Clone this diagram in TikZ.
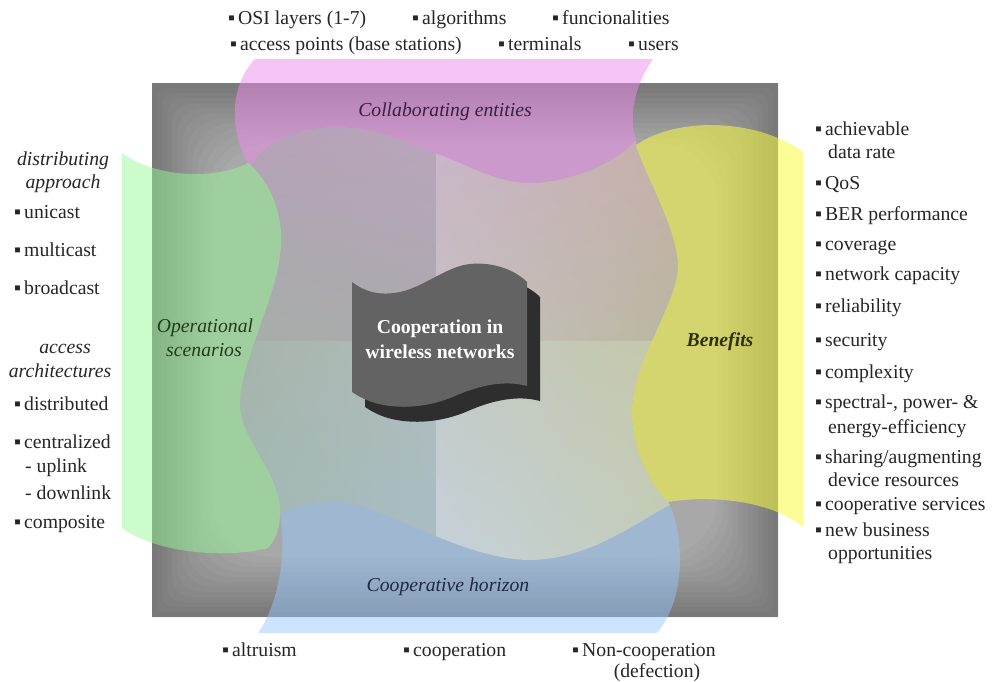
\documentclass[tikz,border=0pt]{standalone}
\usepackage{fontspec}
\setmainfont{Liberation Serif}
\usetikzlibrary{shadings}
\definecolor{sqbase}{HTML}{A8A8A8}
\definecolor{pinkB}{RGB}{238,140,238}
\definecolor{greenB}{RGB}{150,250,150}
\definecolor{yellowB}{RGB}{250,250,65}
\definecolor{blueB}{RGB}{150,200,255}
\definecolor{tlA}{HTML}{B6A0B8}\definecolor{tlB}{HTML}{BAA5BC}\definecolor{tlC}{HTML}{A6AEA8}\definecolor{tlD}{HTML}{ABA9AD}
\definecolor{trA}{HTML}{C9B3C9}\definecolor{trB}{HTML}{C9AFA9}\definecolor{trC}{HTML}{C7C2C2}\definecolor{trD}{HTML}{B9B69E}
\definecolor{blA}{HTML}{A6B4A9}\definecolor{blB}{HTML}{B1BDBC}\definecolor{blC}{HTML}{A0B9B6}\definecolor{blD}{HTML}{A8BCC4}
\definecolor{brA}{HTML}{C2C9C6}\definecolor{brB}{HTML}{C6C8A6}\definecolor{brC}{HTML}{C6D2DC}\definecolor{brD}{HTML}{C2CCB6}
\definecolor{frontc}{HTML}{636363}
\definecolor{shadowc}{HTML}{2E2E2E}
\definecolor{txtc}{HTML}{262626}
\definecolor{hpink}{HTML}{3B1F42}
\definecolor{hgreen}{HTML}{1E3D1E}
\definecolor{hyellow}{HTML}{2F2F08}
\definecolor{hblue}{HTML}{1F2940}
\newcommand\fs{\fontsize{19.7}{23}\selectfont}
\newcommand\bul{\makebox[10pt][l]{▪}}
\tikzset{
  lst/.style={anchor=base west, inner sep=0pt, text=txtc, font=\fs},
  ilbl/.style={anchor=base, inner sep=0pt, text=txtc, font=\fs\itshape},
  hd/.style={anchor=base, inner sep=0pt, font=\fs\itshape},
  mid/.style={anchor=base, inner sep=0pt, text=white, font=\fs\bfseries},
  banner/.style={fill opacity=#1},
}
\begin{document}
\begin{tikzpicture}[x=1pt,y=-1pt]
\useasboundingbox (0,0) rectangle (997,681);
\fill[white] (0,0) rectangle (997,681);
% gray square with vignette
\fill[sqbase] (152,83) rectangle (778,617);
\foreach \d in {5,10,...,60}
  \fill[black,fill opacity=0.025,even odd rule] (152,83) rectangle (778,617)
     [rounded corners=\d pt] (152+\d,83+\d) rectangle (778-\d,617-\d);
% inner pastel region
\begin{scope}
\clip (250,167) .. controls (265,140) and (300,126) .. (340,127)
   .. controls (380,128) and (405,143) .. (435,153)
   .. controls (465,163) and (495,183) .. (530,183)
   .. controls (565,183) and (615,165) .. (636,140)
   -- (636,145) .. controls (645,175) and (678,230) .. (678,267)
   .. controls (678,300) and (635,360) .. (632,407)
   .. controls (630,445) and (650,485) .. (668,502)
   -- (670,505) .. controls (640,520) and (590,560) .. (530,560)
   .. controls (460,560) and (380,502) .. (337,502)
   .. controls (315,502) and (295,505) .. (280,515)
   -- (280,512) .. controls (280,470) and (238,440) .. (240,400)
   .. controls (242,360) and (275,300) .. (280,255)
   .. controls (285,225) and (275,185) .. (248,163) -- cycle;
\shade[upper left=tlA, upper right=tlB, lower left=tlC, lower right=tlD] (230,115) rectangle (436,341);
\shade[upper left=trA, upper right=trB, lower left=trC, lower right=trD] (436,115) rectangle (690,341);
\shade[upper left=blA, upper right=blB, lower left=blC, lower right=blD] (230,341) rectangle (436,570);
\shade[upper left=brA, upper right=brB, lower left=brC, lower right=brD] (436,341) rectangle (690,570);
\end{scope}
% banners
\fill[pinkB, banner=0.5] (255,59) -- (653,59) .. controls (635,85) and (628,115) .. (636,140)
   .. controls (615,165) and (565,183) .. (530,183)
   .. controls (495,183) and (465,163) .. (435,153)
   .. controls (405,143) and (380,128) .. (340,127)
   .. controls (300,126) and (265,140) .. (250,167)
   .. controls (228,130) and (230,85) .. (255,59) -- cycle;
\fill[greenB, banner=0.48] (122,153) -- (122,528)
   .. controls (160,555) and (230,558) .. (268,548)
   .. controls (275,540) and (280,530) .. (280,512)
   .. controls (280,470) and (238,440) .. (240,400)
   .. controls (242,360) and (275,300) .. (280,255)
   .. controls (285,225) and (275,185) .. (248,163)
   .. controls (210,182) and (150,175) .. (122,153) -- cycle;
\fill[yellowB, banner=0.55] (803,152) -- (803,527)
   .. controls (770,500) and (710,495) .. (668,502)
   .. controls (650,485) and (630,445) .. (632,407)
   .. controls (635,360) and (678,300) .. (678,267)
   .. controls (678,230) and (645,175) .. (636,145)
   .. controls (680,115) and (760,120) .. (803,152) -- cycle;
\fill[blueB, banner=0.48] (258,633) -- (657,633)
   .. controls (685,600) and (685,540) .. (670,505)
   .. controls (640,520) and (590,560) .. (530,560)
   .. controls (460,560) and (380,502) .. (337,502)
   .. controls (315,502) and (295,505) .. (280,515)
   .. controls (288,560) and (275,610) .. (258,633) -- cycle;
% centre flag
\fill[shadowc, shift={(13,15)}] (352,282) .. controls (365,292) and (380,296) .. (400,292)
   .. controls (420,288) and (440,272) .. (460,266)
   .. controls (480,260) and (510,265) .. (527,282) -- (527,386)
   .. controls (505,380) and (480,385) .. (455,396)
   .. controls (430,407) and (400,410) .. (375,403)
   .. controls (365,400) and (358,396) .. (352,392) -- cycle;
\fill[frontc] (352,282) .. controls (365,292) and (380,296) .. (400,292)
   .. controls (420,288) and (440,272) .. (460,266)
   .. controls (480,260) and (510,265) .. (527,282) -- (527,386)
   .. controls (505,380) and (480,385) .. (455,396)
   .. controls (430,407) and (400,410) .. (375,403)
   .. controls (365,400) and (358,396) .. (352,392) -- cycle;
\node[mid] (m1) at (440,333) {Cooperation in};
\node[mid] (m2) at (440,358) {wireless networks};
% banner labels
\node[hd, text=hpink] (h1) at (445,116) {Collaborating entities};
\node[hd, text=hgreen] (h2) at (205,332) {Operational};
\node[hd, text=hgreen] (h3) at (204,356) {scenarios};
\node[hd, text=hyellow, font=\fs\itshape\bfseries] (h4) at (720,346) {Benefits};
\node[hd, text=hblue] (h5) at (448,591) {Cooperative horizon};
% top list
\node[lst] (o1) at (228,24) {\bul OSI layers (1-7)};
\node[lst] (o2) at (412,24) {\bul algorithms};
\node[lst] (o3) at (552,24) {\bul funcionalities};
\node[lst] (o4) at (230,50) {\bul access points (base stations)};
\node[lst] (o5) at (498,50) {\bul terminals};
\node[lst] (o6) at (628,50) {\bul users};
% left list
\node[ilbl] (d1) at (63,165) {distributing};
\node[ilbl] (d2) at (63,188) {approach};
\node[lst] (d3) at (14,218) {\bul unicast};
\node[lst] (d4) at (14,256) {\bul multicast};
\node[lst] (d5) at (14,294) {\bul broadcast};
\node[ilbl] (a1) at (65,353) {access};
\node[ilbl] (a2) at (60,377) {architectures};
\node[lst] (a3) at (14,410) {\bul distributed};
\node[lst] (a4) at (14,448) {\bul centralized};
\node[lst] (a5) at (25,472) {- uplink};
\node[lst] (a6) at (25,499) {- downlink};
\node[lst] (a7) at (14,528) {\bul composite};
% right list
\node[lst] (b1) at (815,135) {\bul achievable};
\node[lst] (b1b) at (828,158) {data rate};
\node[lst] (b2) at (815,189) {\bul QoS};
\node[lst] (b3) at (815,220) {\bul BER performance};
\node[lst] (b4) at (815,250) {\bul coverage};
\node[lst] (b5) at (815,280) {\bul network capacity};
\node[lst] (b6) at (815,312) {\bul reliability};
\node[lst] (b7) at (815,346) {\bul security};
\node[lst] (b8) at (815,378) {\bul complexity};
\node[lst] (b9) at (815,408) {\bul spectral-, power- \&};
\node[lst] (b9b) at (828,433) {energy-efficiency};
\node[lst] (b10) at (815,463) {\bul sharing/augmenting};
\node[lst] (b10b) at (828,486) {device resources};
\node[lst] (b11) at (815,510) {\bul cooperative services};
\node[lst] (b12) at (815,536) {\bul new business};
\node[lst] (b12b) at (828,559) {opportunities};
% bottom list
\node[lst] (c1) at (222,656) {\bul altruism};
\node[lst] (c2) at (403,656) {\bul cooperation};
\node[lst] (c3) at (572,656) {\bul Non-cooperation};
\node[anchor=base, inner sep=0pt, text=txtc, font=\fs] (c4) at (657,677) {(defection)};
\end{tikzpicture}
\end{document}
